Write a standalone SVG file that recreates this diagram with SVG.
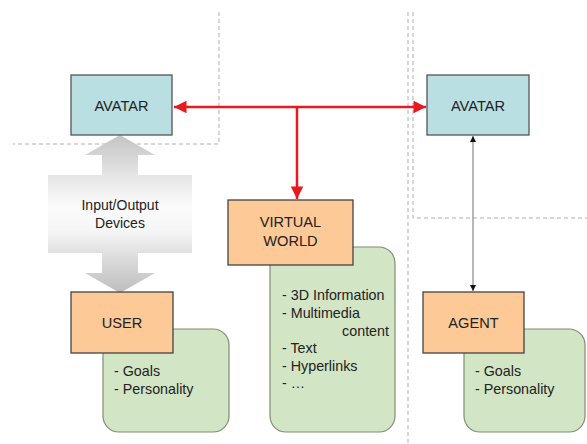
<svg xmlns="http://www.w3.org/2000/svg" width="587" height="444" viewBox="0 0 587 444">
<style>
text{font-family:"Liberation Sans",Arial,sans-serif;fill:#222;}
.lbl{font-size:14.6px;text-anchor:middle;}
.io{font-size:14px;text-anchor:middle;}
.body{font-size:14.3px;}
.dash{fill:none;stroke:#b0b0b0;stroke-width:1;stroke-dasharray:4 3;}
.avatar{fill:#b9dfe2;stroke:#555;stroke-width:1.3;}
.orange{fill:#fcc997;stroke:#444;stroke-width:1.3;}
.green{fill:#d2e5c5;stroke:#7d9070;stroke-width:1.2;}
.red{fill:none;stroke:#e8191f;stroke-width:2.5;}
.thin{fill:none;stroke:#888;stroke-width:1.2;}
</style>
<defs>
<marker id="redhead" viewBox="0 0 10 10" refX="10" refY="5" markerWidth="6" markerHeight="5" markerUnits="strokeWidth" orient="auto-start-reverse"><path d="M0,0 L10,5 L0,10 z" fill="#e8191f"/></marker>
<marker id="blackhead" viewBox="0 0 10 10" refX="10" refY="5" markerWidth="5" markerHeight="5" orient="auto-start-reverse"><path d="M0,0 L10,5 L0,10 z" fill="#111"/></marker>
<linearGradient id="iograd" x1="0" y1="135" x2="0" y2="293" gradientUnits="userSpaceOnUse">
<stop offset="0" stop-color="#c4c4c4"/>
<stop offset="0.25" stop-color="#e4e4e4"/>
<stop offset="0.45" stop-color="#fbfbfb"/>
<stop offset="0.6" stop-color="#f6f6f6"/>
<stop offset="0.75" stop-color="#e0e0e0"/>
<stop offset="1" stop-color="#bdbdbd"/>
</linearGradient>
</defs>
<g id="regions">
<path class="dash" d="M219,12 V144 H13"/>
<path class="dash" d="M408,12 V444"/>
<path class="dash" d="M413,12 V218 H587"/>
</g>
<g id="io-devices">
<path d="M120,135 L155,155 L138,155 L138,175 L192,175 L192,253 L138,253 L138,273 L155,273 L120,293 L85,273 L102,273 L102,253 L48,253 L48,175 L102,175 L102,155 L85,155 Z" fill="url(#iograd)"/>
<text class="io" x="120" y="210">Input/Output</text>
<text class="io" x="120" y="228">Devices</text>
</g>
<g id="user-goals">
<rect class="green" x="103" y="329" width="126" height="103" rx="16"/>
<text class="body" x="114" y="376">- Goals</text>
<text class="body" x="114" y="394">- Personality</text>
</g>
<g id="world-content">
<rect class="green" x="270" y="247" width="125" height="185" rx="16"/>
<text class="body" x="282" y="300">- 3D Information</text>
<text class="body" x="282" y="318">- Multimedia</text>
<text class="body" x="389" y="336" text-anchor="end">content</text>
<text class="body" x="282" y="353">- Text</text>
<text class="body" x="282" y="371">- Hyperlinks</text>
<text class="body" x="282" y="388">- …</text>
</g>
<g id="agent-goals">
<rect class="green" x="464" y="329" width="121" height="103" rx="16"/>
<text class="body" x="475" y="376">- Goals</text>
<text class="body" x="475" y="394">- Personality</text>
</g>
<g id="avatar-left">
<rect class="avatar" x="71" y="75" width="101" height="60"/>
<text class="lbl" x="121.5" y="111">AVATAR</text>
</g>
<g id="avatar-right">
<rect class="avatar" x="427" y="75" width="102" height="60"/>
<text class="lbl" x="478" y="111">AVATAR</text>
</g>
<g id="virtual-world">
<rect class="orange" x="228" y="200" width="125" height="65"/>
<text class="lbl" x="290.5" y="227">VIRTUAL</text>
<text class="lbl" x="290.5" y="246">WORLD</text>
</g>
<g id="user">
<rect class="orange" x="71" y="292" width="102" height="61"/>
<text class="lbl" x="122" y="328">USER</text>
</g>
<g id="agent">
<rect class="orange" x="423" y="292" width="101" height="61"/>
<text class="lbl" x="473.5" y="328">AGENT</text>
</g>
<g id="connectors">
<path class="red" d="M174,107 H426" marker-start="url(#redhead)" marker-end="url(#redhead)"/>
<path class="red" d="M297,107 V199" marker-end="url(#redhead)"/>
<path class="thin" d="M473,136 V291" marker-start="url(#blackhead)" marker-end="url(#blackhead)"/>
</g>
</svg>
